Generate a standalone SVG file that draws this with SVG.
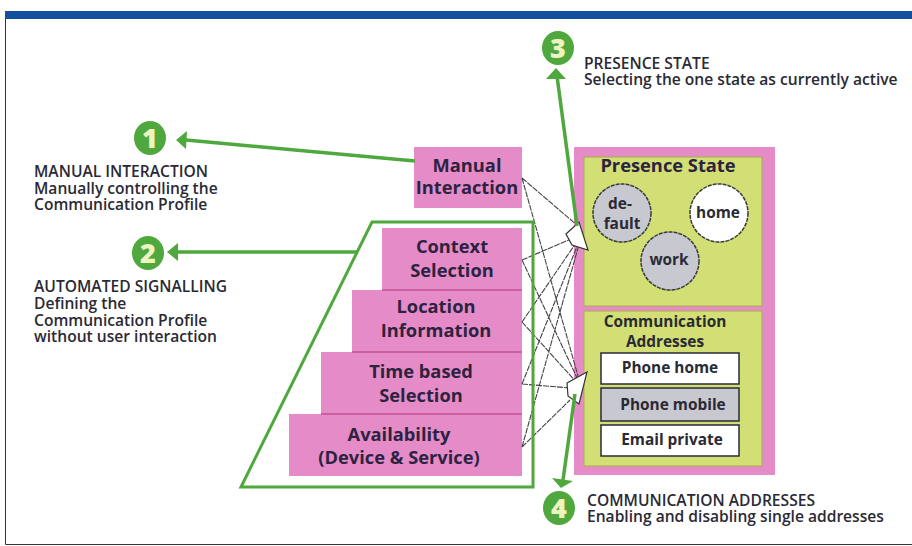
<svg xmlns="http://www.w3.org/2000/svg" width="912" height="546" viewBox="0 0 912 546">
<style>
text{font-family:"Open Sans","Liberation Sans",sans-serif;fill:#2a2a35}
.cap{font-size:15.6px;font-weight:600}
.lbl{font-size:18.3px;font-weight:700;text-anchor:middle;fill:#2d2340}
.pink{fill:#e58cc8}
.edge{stroke:#c24f9a;stroke-width:1.5;fill:none}
.lime{fill:#d2df74;stroke:#a9ab4c;stroke-width:1}
.w{font-size:15.4px;font-weight:700;text-anchor:middle}
.circ{stroke:#3a3a3a;stroke-width:1.5;stroke-dasharray:4 1}
.box{stroke:#2a2a3a;stroke-width:1.5}
.n{font-size:27px;font-weight:800;text-anchor:middle;fill:#eef3c0}
.g{stroke:#4fa83d;stroke-width:3.5;fill:none}
.th{stroke:#444;stroke-width:1.100;fill:none;stroke-dasharray:6 1}
</style>
<rect x="0" y="0" width="912" height="546" fill="#fff"/>
<rect x="5" y="11" width="907" height="8" fill="#134f9e"/>
<path d="M5.500 19V544.500H912" fill="none" stroke="#333" stroke-width="1"/>
<g id="frame-outer"><rect x="574" y="147" width="201" height="328" fill="#e58cc8"/></g>
<g id="presence-state"><rect x="584" y="157" width="178" height="149" class="lime"/>
<text x="668" y="172" class="lbl">Presence State</text>
<circle cx="622" cy="213" r="29" fill="#c8c8d0" class="circ"/><text x="620" y="209" class="w">de-</text><text x="622" y="229" class="w">fault</text>
<circle cx="719" cy="213" r="29" fill="#fff" class="circ"/><text x="718" y="218" class="w">home</text>
<circle cx="670" cy="261" r="29" fill="#c8c8d0" class="circ"/><text x="669" y="265" class="w">work</text>
</g>
<g id="communication-addresses"><rect x="584" y="311" width="178" height="155" class="lime"/>
<text x="665" y="327" class="w">Communication</text><text x="665" y="347" class="w">Addresses</text>
<rect x="601" y="353" width="138" height="31" fill="#fff" class="box"/><text x="670" y="373" class="w">Phone home</text>
<rect x="601" y="388" width="138" height="33" fill="#c8c8d0" class="box"/><text x="673" y="410" class="w">Phone mobile</text>
<rect x="601" y="425" width="138" height="31" fill="#fff" class="box"/><text x="672" y="445" class="w">Email private</text>
</g>
<g id="manual"><rect x="414" y="147" width="108" height="61" class="pink"/><text x="467" y="172" class="lbl">Manual</text><text x="467" y="194" class="lbl">Interaction</text></g>
<g id="context"><rect x="382" y="228" width="140" height="62" class="pink"/><text x="452" y="253" class="lbl">Context</text><text x="452" y="277" class="lbl">Selection</text></g>
<g id="location"><rect x="352" y="290" width="170" height="62" class="pink"/><path class="edge" d="M382 290H522"/><text x="436" y="313" class="lbl">Location</text><text x="436" y="337" class="lbl">Information</text></g>
<g id="time"><rect x="321" y="352" width="201" height="62" class="pink"/><path class="edge" d="M352 352H522"/><text x="421" y="378" class="lbl">Time based</text><text x="421" y="402" class="lbl">Selection</text></g>
<g id="availability"><rect x="289" y="414" width="233" height="62" class="pink"/><path class="edge" d="M321 414H522"/><text x="399" y="441" class="lbl">Availability</text><text x="399" y="464" class="lbl">(Device &amp; Service)</text></g>
<g id="connectors">
<path class="th" d="M522 178L578 226M522 178L578 376M522 260L578 236M522 260L578 380M522 322L578 240M522 322L578 384M522 384L578 244M522 384L570 388M522 447L578 248M522 447L570 400"/>
<path d="M566 234L579 222L588 250L572 245ZM567 383L587 372L579 404L568 396Z" fill="#fff" stroke="#333" stroke-width="1.200"/>
<path d="M533 222H372L241 487H533Z" fill="none" stroke="#4fa83d" stroke-width="3"/>
<path class="g" d="M415 161L186 140M357 252H176M577 226L557 76M575 394L563 480"/>
<path fill="#4fa83d" d="M176 140L187 131L186 149ZM167 252L178 243V261ZM556 68L546 79H566ZM561 488L552 478L573 481Z"/>
</g>
<g id="badge-1"><ellipse cx="150" cy="138" rx="16" ry="17" fill="#4fa83d"/><text x="150" y="148" class="n">1</text></g>
<g id="badge-2"><ellipse cx="148" cy="253" rx="16" ry="17" fill="#4fa83d"/><text x="148" y="263" class="n">2</text></g>
<g id="badge-3"><ellipse cx="558" cy="48" rx="16" ry="17" fill="#4fa83d"/><text x="558" y="58" class="n">3</text></g>
<g id="badge-4"><ellipse cx="559" cy="508" rx="16" ry="17" fill="#4fa83d"/><text x="559" y="518" class="n">4</text></g>
<g id="captions">
<text class="cap" x="34" y="177">MANUAL INTERACTION</text><text class="cap" x="34" y="194">Manually controlling the</text><text class="cap" x="34" y="210">Communication Profile</text>
<text class="cap" x="34" y="292">AUTOMATED SIGNALLING</text><text class="cap" x="34" y="309">Defining the</text><text class="cap" x="34" y="326">Communication Profile</text><text class="cap" x="34" y="342">without user interaction</text>
<text class="cap" x="584" y="69">PRESENCE STATE</text><text class="cap" x="584" y="85">Selecting the one state as currently active</text>
<text class="cap" x="587" y="506">COMMUNICATION ADDRESSES</text><text class="cap" x="587" y="522">Enabling and disabling single addresses</text>
</g>
</svg>
